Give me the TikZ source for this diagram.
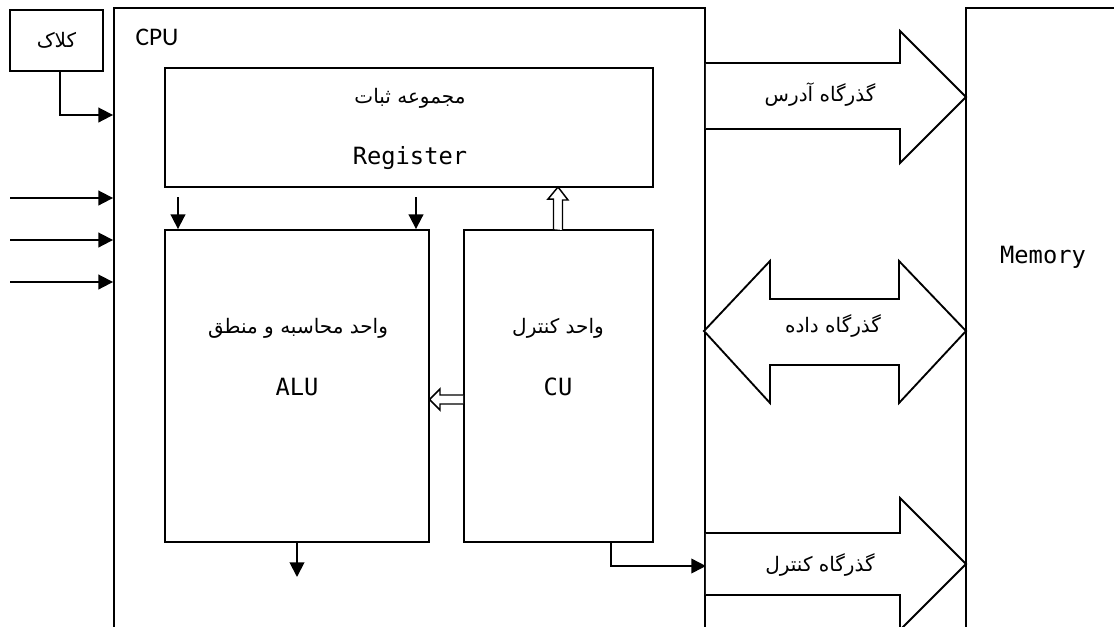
\documentclass[tikz,border=0pt]{standalone}
\usepackage{fontspec}
\usetikzlibrary{arrows.meta,calc}
\TeXXeTstate=1
\newfontfamily\arabicfont[Script=Arabic]{DejaVu Sans}
\newfontfamily\monofont{DejaVu Sans Mono}
\newfontfamily\cpufont{Carlito}
\tikzset{
  box/.style={draw, line width=1.4pt, inner sep=0pt},
  fa/.style={font=\arabicfont\fontsize{15}{17}\selectfont, inner sep=0pt},
  mono/.style={font=\monofont\fontsize{17.8}{20}\selectfont, inner sep=0pt},
  arr/.style={line width=1.4pt, -{Triangle[length=11pt,width=11pt]}},
  hollow/.style={draw, line width=1.1pt, fill=white, line join=miter},
  bus/.style={draw, line width=1.4pt, line join=miter, fill=white}
}
\begin{document}
\begin{tikzpicture}[x=0.75pt,y=-0.75pt]
\useasboundingbox (0,0) rectangle (1114,626);
\clip (0,0) rectangle (1114,626);
\fill[white] (0,0) rectangle (1114,626);
% boxes
\node[box, minimum width=93*0.75pt, minimum height=61*0.75pt] (clock) at (56.5,40.5) {};
\node[fa] at (clock.center) {\beginR کلاک\endR};
\node[box, minimum width=591*0.75pt, minimum height=692*0.75pt] (cpu) at (409.5,354) {};
\node[font=\cpufont\fontsize{19}{21}\selectfont, inner sep=0pt] (cpulbl) at (157,37) {CPU};
\node[box, minimum width=488*0.75pt, minimum height=119*0.75pt] (reg) at (409,127.5) {};
\node[fa] (regfa) at (410,98) {\beginR مجموعه ثبات\endR};
\node[mono] (regen) at (410,158) {Register};
\node[box, minimum width=264*0.75pt, minimum height=312*0.75pt] (alu) at (297,386) {};
\node[fa] (alufa) at (298,328) {\beginR واحد محاسبه و منطق\endR};
\node[mono] (aluen) at (297,387) {ALU};
\node[box, minimum width=189*0.75pt, minimum height=312*0.75pt] (cu) at (558.5,386) {};
\node[fa] (cufa) at (558,328) {\beginR واحد کنترل\endR};
\node[mono] (cuen) at (558,387) {CU};
\node[box, minimum width=234*0.75pt, minimum height=692*0.75pt] (mem) at (1083,354) {};
\node[mono] (memlbl) at (1043,257) {Memory};
% clock arrow
\coordinate (ck) at (0,115);
\draw[arr] ($(clock.south)+(3.5,0)$) |- (cpu.west |- ck);
% input arrows
\coordinate (in1) at (10,198);
\coordinate (in2) at (10,240);
\coordinate (in3) at (10,282);
\draw[arr] (in1) -- (in1 -| cpu.west);
\draw[arr] (in2) -- (in2 -| cpu.west);
\draw[arr] (in3) -- (in3 -| cpu.west);
% register to ALU arrows
\coordinate (r1) at (178,197);
\coordinate (r2) at (416,197);
\draw[arr] (r1) -- (r1 |- alu.north);
\draw[arr] (r2) -- (r2 |- alu.north);
% ALU output
\coordinate (ao) at (297,577);
\draw[arr] (alu.south) -- (ao);
% CU output to control bus
\coordinate (co) at (611,566);
\draw[arr] (cu.south -| co) |- (cpu.east |- co);
% hollow arrow CU -> register
\draw[hollow] (cu.north -| 558,0) ++(-4.5,0) -- ++(0,-30) -- ++(-5.5,0) -- (558,187) -- (568,200) -- (562.5,200) -- (562.5,230) ;
% hollow arrow CU -> ALU
\draw[hollow] (cu.west |- 0,395) -- (440,395) -- (440,389) -- (429.5,399.5) -- (440,410) -- (440,404) -- (cu.west |- 0,404);
% buses
\draw[bus] (cpu.east |- 0,63) -- (900,63) -- (900,31) -- (966,97) -- (900,163) -- (900,129) -- (cpu.east |- 0,129);
\node[fa] (abus) at (820,95) {\beginR گذرگاه آدرس\endR};
\draw[bus] (770,299) -- (899,299) -- (899,261) -- (966,331) -- (899,403) -- (899,365) -- (770,365) -- (770,403) -- (704,331) -- (770,261) -- cycle;
\node[fa] (dbus) at (833,326) {\beginR گذرگاه داده\endR};
\draw[bus] (cpu.east |- 0,533) -- (900,533) -- (900,498) -- (966,564) -- (900,630) -- (900,595) -- (cpu.east |- 0,595);
\node[fa] (cbus) at (820,565) {\beginR گذرگاه کنترل\endR};
\end{tikzpicture}
\end{document}
